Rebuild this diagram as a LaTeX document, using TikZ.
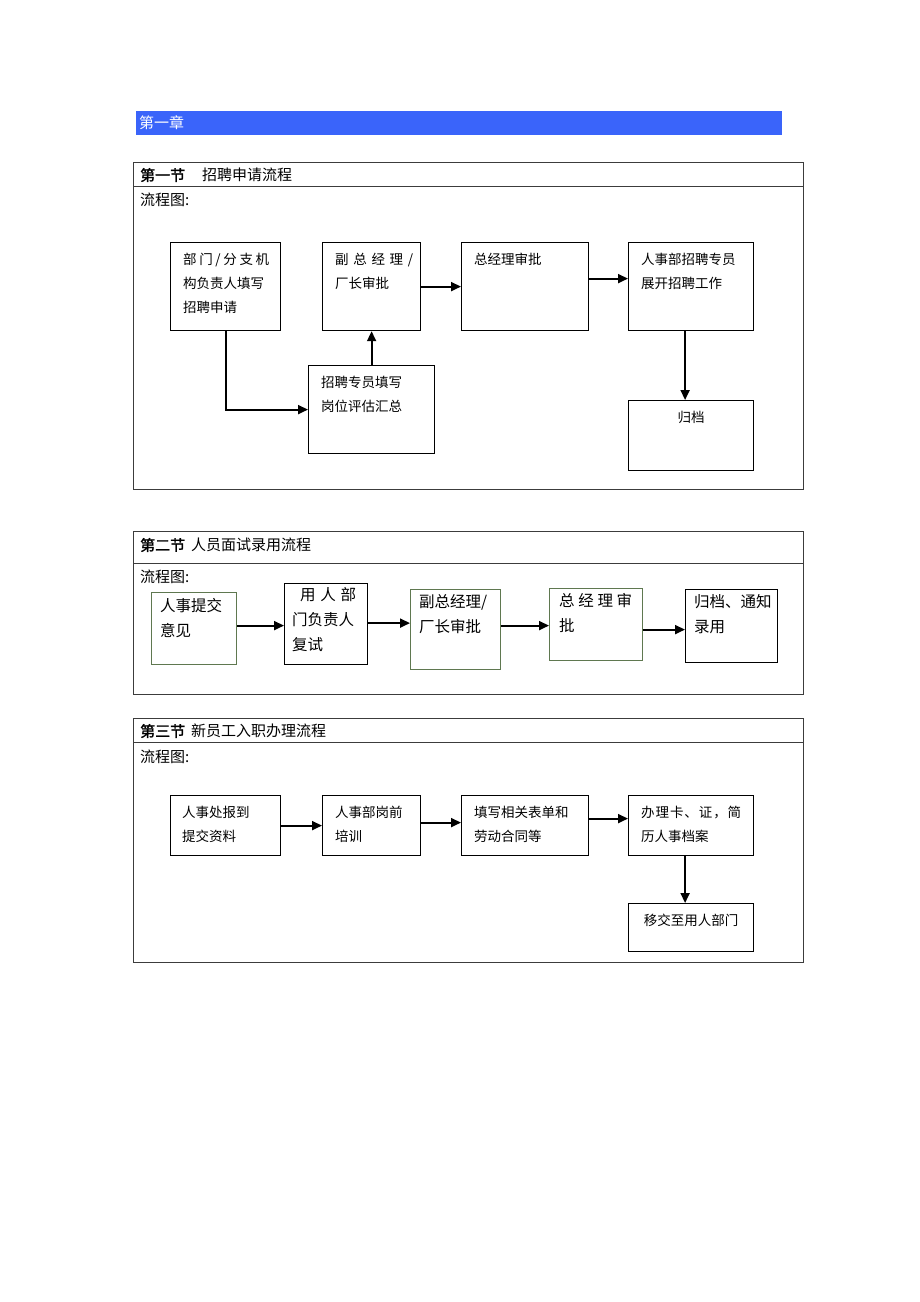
\documentclass[tikz,border=0pt]{standalone}
\usepackage{fontspec}
\setmainfont{Noto Sans CJK SC}
\newfontfamily\cjkbold[FakeBold=1.5]{Noto Sans CJK SC}
\usetikzlibrary{arrows.meta,calc}
\definecolor{chapblue}{RGB}{58,100,250}
\definecolor{framegray}{RGB}{60,60,60}
\definecolor{boxgreen}{RGB}{95,120,80}
\newcommand{\spreadto}[2]{\makebox[#1][s]{#2}}
\tikzset{
  frame/.style={draw=framegray, line width=0.9pt},
  box/.style={draw=black, line width=1.2pt, anchor=north west, inner sep=0pt},
  greenbox/.style={box, draw=boxgreen},
  txt/.style={anchor=north west, inner sep=0pt, align=left, font=\fontsize{13.5}{24}\selectfont},
  bigtxt/.style={txt, font=\fontsize{15.5}{25}\selectfont},
  title/.style={anchor=west, inner sep=0pt, font=\fontsize{15}{16}\selectfont},
  arr/.style={-{Triangle[length=10pt,width=9pt]}, line width=1.8pt},
}
\begin{document}
\begin{tikzpicture}[x=1pt,y=-1pt]
\useasboundingbox (0,0) rectangle (920,1302);
% chapter bar
\fill[chapblue] (136,111) rectangle (782,135);
\node[title, text=white] (chap) at (139,123) {第一章};

% section 1
\draw[frame] (133,162) rectangle (803,489);
\draw[frame] (133,186) -- (803,186);
\node[title] (s1) at (140,175) {{\cjkbold 第一节}\hspace{17pt}招聘申请流程};
\node[title] (s1f) at (140,200) {流程图:};

\node[box, minimum width=110, minimum height=88] (dept) at (170,242) {};
\node[box, minimum width=98, minimum height=88] (vice) at (322,242) {};
\node[box, minimum width=127, minimum height=88] (gm) at (461,242) {};
\node[box, minimum width=125, minimum height=88] (hr) at (628,242) {};
\node[box, minimum width=126, minimum height=88] (eval) at (308,365) {};
\node[box, minimum width=125, minimum height=70] (file) at (628,400) {};

\node[txt] at ([xshift=13pt,yshift=-11pt]dept.north west)
  {\spreadto{86pt}{部\hfill 门\hfill /\hfill 分\hfill 支\hfill 机}\\构负责人填写\\招聘申请};
\node[txt] at ([xshift=13pt,yshift=-11pt]vice.north west)
  {\spreadto{78pt}{副\hfill 总\hfill 经\hfill 理\hfill /}\\厂长审批};
\node[txt] at ([xshift=13pt,yshift=-11pt]gm.north west) {总经理审批};
\node[txt] at ([xshift=13pt,yshift=-11pt]hr.north west) {人事部招聘专员\\展开招聘工作};
\node[txt] at ([xshift=13pt,yshift=-11pt]eval.north west) {招聘专员填写\\岗位评估汇总};
\node[txt, anchor=north] at ([xshift=0pt,yshift=-11pt]file.north) {归档};

\draw[arr] (dept.south) |- (eval.west);
\draw[arr] (eval.north) -- (vice.south);
\draw[arr] (vice.east) -- (gm.west);
\draw[arr] ([yshift=8pt]gm.east) -- ([yshift=8pt]hr.west);
\draw[arr] ([xshift=-6pt]hr.south) -- ([xshift=-6pt]file.north);

% section 2
\draw[frame] (133,531) rectangle (803,694);
\draw[frame] (133,563) -- (803,563);
\node[title] (s2) at (140,545) {{\cjkbold 第二节}\hspace{6pt}人员面试录用流程};
\node[title] (s2f) at (140,577) {流程图:};

\node[greenbox, minimum width=85, minimum height=72] (opinion) at (151,592) {};
\node[box, minimum width=83, minimum height=81] (retest) at (284,583) {};
\node[greenbox, minimum width=90, minimum height=80] (vice2) at (410,589) {};
\node[greenbox, minimum width=93, minimum height=72] (gm2) at (549,588) {};
\node[box, minimum width=92, minimum height=73] (notify) at (685,589) {};

\node[bigtxt] at ([xshift=9pt,yshift=-6pt]opinion.north west) {人事提交\\意见};
\node[bigtxt] at ([xshift=8pt,yshift=-4pt]retest.north west)
  {\hspace{8pt}\spreadto{56pt}{用\hfill 人\hfill 部}\\门负责人\\复试};
\node[bigtxt] at ([xshift=9pt,yshift=-5pt]vice2.north west) {副总经理/\\厂长审批};
\node[bigtxt] at ([xshift=10pt,yshift=-5pt]gm2.north west) {\spreadto{73pt}{总\hfill 经\hfill 理\hfill 审}\\批};
\node[bigtxt] at ([xshift=9pt,yshift=-5pt]notify.north west) {归档、通知\\录用};

\draw[arr] ([yshift=3pt]opinion.east) -- ([yshift=3pt]opinion.east -| retest.west);
\draw[arr] ([yshift=1pt]retest.east) -- ([yshift=1pt]retest.east -| vice2.west);
\draw[arr] ([yshift=4pt]vice2.east) -- ([yshift=4pt]vice2.east -| gm2.west);
\draw[arr] ([yshift=-5pt]gm2.east) -- ([yshift=-5pt]gm2.east -| notify.west);

% section 3
\draw[frame] (133,718) rectangle (803,962);
\draw[frame] (133,742) -- (803,742);
\node[title] (s3) at (140,731) {{\cjkbold 第三节}\hspace{6pt}新员工入职办理流程};
\node[title] (s3f) at (140,757) {流程图:};

\node[box, minimum width=110, minimum height=60] (report) at (170,795) {};
\node[box, minimum width=98, minimum height=60] (train) at (322,795) {};
\node[box, minimum width=127, minimum height=60] (forms) at (461,795) {};
\node[box, minimum width=125, minimum height=60] (cards) at (628,795) {};
\node[box, minimum width=125, minimum height=48] (hand) at (628,903) {};

\node[txt] at ([xshift=12pt,yshift=-11pt]report.north west) {人事处报到\\提交资料};
\node[txt] at ([xshift=13pt,yshift=-11pt]train.north west) {人事部岗前\\培训};
\node[txt] at ([xshift=13pt,yshift=-11pt]forms.north west) {填写相关表单和\\劳动合同等};
\node[txt] at ([xshift=13pt,yshift=-11pt]cards.north west)
  {\spreadto{100pt}{办\hfill 理\hfill 卡\hfill 、\hfill 证\hfill ，\hfill 简}\\历人事档案};
\node[txt, anchor=north] at ([yshift=-11pt]hand.north) {移交至用人部门};

\draw[arr] (report.east) -- (train.west);
\draw[arr] ([yshift=3pt]train.east) -- ([yshift=3pt]train.east -| forms.west);
\draw[arr] ([yshift=7pt]forms.east) -- ([yshift=7pt]forms.east -| cards.west);
\draw[arr] ([xshift=-6pt]cards.south) -- ([xshift=-6pt]hand.north);
\end{tikzpicture}
\end{document}
